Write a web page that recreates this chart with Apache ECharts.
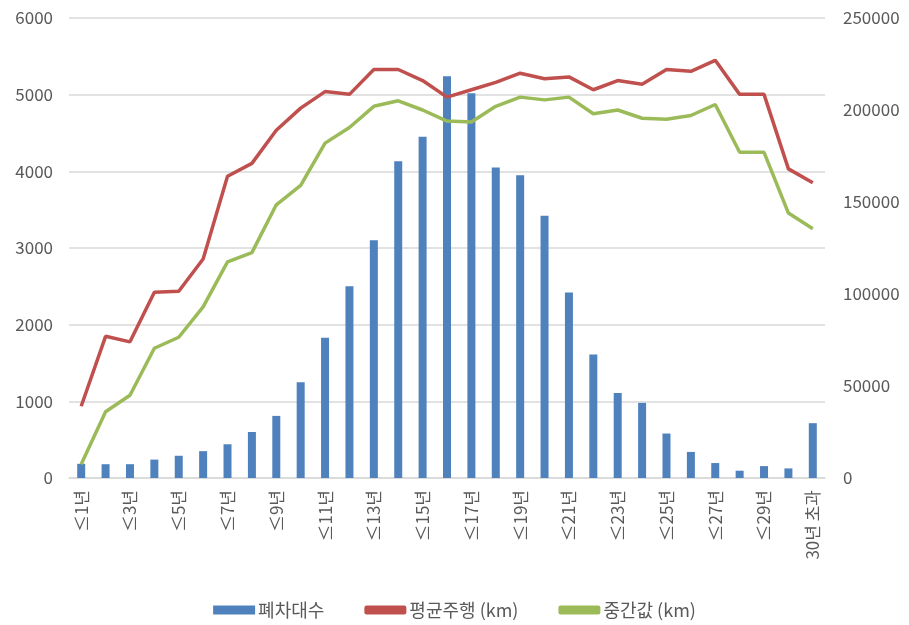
<!DOCTYPE html>
<html><head><meta charset="utf-8">
<script src="https://cdn.jsdelivr.net/npm/echarts@6/dist/echarts.min.js"></script>
<style>html,body{margin:0;padding:0;background:#fff}#c{width:909px;height:625px}</style>
</head><body><div id="c"></div>
<script>
const categories = ["≤1년","≤2년","≤3년","≤4년","≤5년","≤6년","≤7년","≤8년","≤9년","≤10년","≤11년","≤12년","≤13년","≤14년","≤15년","≤16년","≤17년","≤18년","≤19년","≤20년","≤21년","≤22년","≤23년","≤24년","≤25년","≤26년","≤27년","≤28년","≤29년","≤30년","30년 초과"];
const scrapCount = [185,180,180,240,290,350,440,600,810,1250,1830,2500,3100,4130,4450,5240,5020,4050,3950,3420,2420,1610,1110,980,580,340,195,95,155,125,715];
const avgMileage = [39000,77000,74000,101000,101500,119000,164000,171000,189000,201000,210000,208500,222000,222000,216000,207000,211000,215000,220000,217000,218000,211000,216000,214000,222000,221000,227000,208500,208500,168000,160500];
const medianMileage = [7500,36000,45000,70500,76500,93000,117500,122500,148500,159000,182000,190500,202000,205000,200000,194000,193500,202000,207000,205500,207000,198000,200000,195500,195000,197000,203000,177000,177000,144000,135500];
const leftTicks = {min:0, max:6000, interval:1000};
const rightTicks = {min:0, max:250000, interval:50000};

const font = '"Noto Sans CJK KR", "Noto Sans", sans-serif';
const chart = echarts.init(document.getElementById('c'), null, {renderer:'canvas'});
chart.setOption({
  animation:false,
  textStyle:{fontFamily:font},
  grid:{left:69, right:84, top:18, bottom:147, containLabel:false},
  legend:{
    bottom:1, left:'center', itemGap:40, itemWidth:42, itemHeight:9,
    textStyle:{fontSize:18, color:'#595959', fontFamily:font, padding:[0,0,0,-2]},
    data:[
      {name:'폐차대수', icon:'rect'},
      {name:'평균주행 (km)', icon:'roundRect'},
      {name:'중간값 (km)', icon:'roundRect'}
    ]
  },
  xAxis:{
    type:'category', data:categories, boundaryGap:true,
    axisLine:{show:true, lineStyle:{color:'#d9d9d9', width:1.5}},
    axisTick:{show:false},
    axisLabel:{interval:1, rotate:90, fontSize:17, color:'#595959', margin:12, fontFamily:font}
  },
  yAxis:[
    {type:'value', min:leftTicks.min, max:leftTicks.max, interval:leftTicks.interval,
     axisLine:{show:false}, axisTick:{show:false},
     axisLabel:{fontSize:17, color:'#595959', margin:16, fontFamily:font, formatter:v=>String(v)},
     splitLine:{show:true, lineStyle:{color:'#d9d9d9', width:1.5}}},
    {type:'value', min:rightTicks.min, max:rightTicks.max, interval:rightTicks.interval,
     position:'right',
     axisLine:{show:false}, axisTick:{show:false},
     axisLabel:{fontSize:17, color:'#595959', margin:18, fontFamily:font, formatter:v=>String(v)},
     splitLine:{show:false}}
  ],
  series:[
    {name:'폐차대수', type:'bar', yAxisIndex:0, data:scrapCount, barWidth:8,
     itemStyle:{color:'#4F81BD'}},
    {name:'평균주행 (km)', type:'line', yAxisIndex:1, data:avgMileage, symbol:'none',
     lineStyle:{color:'#C0504D', width:3.5}, itemStyle:{color:'#C0504D'}},
    {name:'중간값 (km)', type:'line', yAxisIndex:1, data:medianMileage, symbol:'none',
     lineStyle:{color:'#9BBB59', width:3.5}, itemStyle:{color:'#9BBB59'}}
  ]
});
</script></body></html>
